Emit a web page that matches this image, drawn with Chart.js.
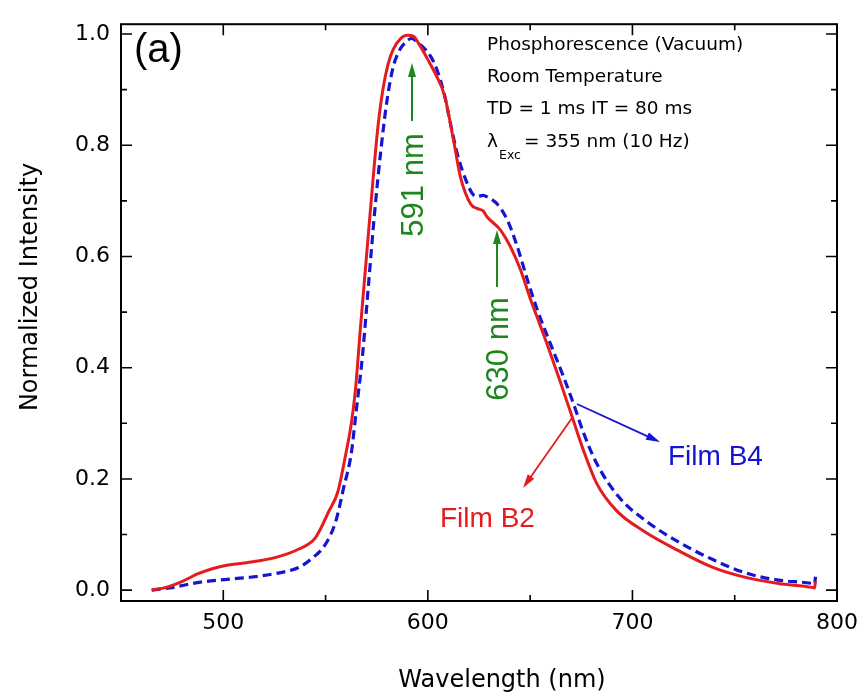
<!DOCTYPE html>
<html>
<head>
<meta charset="utf-8">
<script src="https://cdn.jsdelivr.net/npm/chart.js@4.4.1/dist/chart.umd.min.js"></script>
<style>
html,body{margin:0;padding:0;background:#fff;}
#wrap{width:867px;height:696px;}
</style>
</head>
<body>
<div id="wrap"><canvas id="c" width="867" height="696"></canvas></div>
<script>
// ---- data ----
const wlB2 = [465,472,480,488,495,500.5,512.6,525.7,537,545,551.5,556,560,562.6,564.6,567,570,573,575.5,578,580.5,583,587,590,593,596,600,604,608.2,613,616,621,624.3,627,629,635.4,640.3,645.1,650,654.8,658.3,664.6,670.4,676.2,682.5,692.2,706,722,739.3,755.3,771.4,787.9,789,789.5];
const intB2 = [0.000,0.005,0.016,0.030,0.039,0.044,0.050,0.059,0.074,0.094,0.141,0.177,0.247,0.300,0.360,0.47,0.60,0.73,0.83,0.90,0.945,0.972,0.993,0.998,0.996,0.98,0.954,0.926,0.889,0.80,0.742,0.694,0.686,0.682,0.671,0.648,0.618,0.578,0.525,0.477,0.442,0.376,0.313,0.250,0.192,0.143,0.105,0.072,0.041,0.023,0.012,0.005,0.004,0.016];
const wlB4 = [465,473.8,488,500.5,512.6,525.7,537,543,550,555,558.7,562.6,565,568,571,574,577,580,583,586,589,592,595,601.5,605,608.2,611,614.5,619.4,622,624.3,627,629.1,634,638.8,643.7,648.5,653.4,659.7,666.5,671.4,676.2,682.5,693.7,706.8,722.8,739.3,755.3,771.4,787.9,789,789.5];
const intB4 = [0.000,0.004,0.014,0.019,0.023,0.030,0.041,0.056,0.083,0.124,0.182,0.247,0.323,0.42,0.55,0.68,0.79,0.88,0.94,0.97,0.985,0.992,0.985,0.959,0.93,0.889,0.84,0.783,0.730,0.712,0.708,0.71,0.707,0.694,0.666,0.618,0.56,0.505,0.445,0.382,0.333,0.282,0.228,0.166,0.124,0.086,0.055,0.031,0.018,0.012,0.011,0.024];
const xTicks = [500,600,700,800];
const xMinor = [550,650,750];
const yTicks = [0,0.2,0.4,0.6,0.8,1.0];
const yMinor = [0.1,0.3,0.5,0.7,0.9];
const xTitle = 'Wavelength (nm)';
const yTitle = 'Normalized Intensity';
const infoLines = ['Phosphorescence (Vacuum)','Room Temperature','TD = 1 ms IT = 80 ms'];

const RED = '#e41b1f', BLUE = '#1414d2', GREEN = '#1f861f';
const toPts = (xs, ys) => xs.map((x, i) => ({x: x, y: ys[i]}));

function arrow(ctx, x1, y1, x2, y2, color, lw, hl, hw) {
  const a = Math.atan2(y2 - y1, x2 - x1);
  ctx.save();
  ctx.strokeStyle = color; ctx.fillStyle = color; ctx.lineWidth = lw;
  ctx.beginPath();
  ctx.moveTo(x1, y1);
  ctx.lineTo(x2 - Math.cos(a) * hl * 0.8, y2 - Math.sin(a) * hl * 0.8);
  ctx.stroke();
  ctx.beginPath();
  ctx.moveTo(x2, y2);
  ctx.lineTo(x2 - Math.cos(a) * hl + Math.sin(a) * hw / 2, y2 - Math.sin(a) * hl - Math.cos(a) * hw / 2);
  ctx.lineTo(x2 - Math.cos(a) * hl - Math.sin(a) * hw / 2, y2 - Math.sin(a) * hl + Math.cos(a) * hw / 2);
  ctx.closePath();
  ctx.fill();
  ctx.restore();
}

const framePlugin = {
  id: 'frame',
  afterDraw(chart) {
    const ctx = chart.ctx, a = chart.chartArea;
    const xs = chart.scales.x, ys = chart.scales.y;
    ctx.save();
    ctx.strokeStyle = '#000'; ctx.lineWidth = 2;
    ctx.strokeRect(a.left, a.top, a.right - a.left, a.bottom - a.top);
    ctx.lineWidth = 1.6;
    ctx.beginPath();
    const tickX = (v, len) => {
      const p = xs.getPixelForValue(v);
      ctx.moveTo(p, a.bottom); ctx.lineTo(p, a.bottom - len);
      ctx.moveTo(p, a.top); ctx.lineTo(p, a.top + len);
    };
    const tickY = (v, len) => {
      const p = ys.getPixelForValue(v);
      ctx.moveTo(a.left, p); ctx.lineTo(a.left + len, p);
      ctx.moveTo(a.right, p); ctx.lineTo(a.right - len, p);
    };
    xTicks.forEach(v => tickX(v, 11));
    xMinor.forEach(v => tickX(v, 6));
    yTicks.forEach(v => tickY(v, 11));
    yMinor.forEach(v => tickY(v, 6));
    ctx.stroke();

    // axis titles
    ctx.fillStyle = '#000';
    ctx.font = '24px "DejaVu Sans"';
    ctx.textAlign = 'center'; ctx.textBaseline = 'alphabetic';
    ctx.fillText(xTitle, 502, 687);
    ctx.save();
    ctx.translate(37, 287);
    ctx.rotate(-Math.PI / 2);
    ctx.fillText(yTitle, 0, 0);
    ctx.restore();

    // panel label
    ctx.textAlign = 'left';
    ctx.font = '40px "Liberation Sans"';
    ctx.fillText('(a)', 134, 62);

    // info block
    ctx.font = '18.5px "DejaVu Sans"';
    const baseYs = [50, 82, 114];
    infoLines.forEach((t, i) => ctx.fillText(t, 487, baseYs[i]));
    ctx.fillText('\u03bb', 487, 147);
    ctx.font = '12.5px "DejaVu Sans"';
    ctx.fillText('Exc', 499, 159);
    ctx.font = '18.5px "DejaVu Sans"';
    ctx.fillText('= 355 nm (10 Hz)', 524, 147);

    // green peak labels
    ctx.fillStyle = GREEN;
    ctx.font = '31px "Liberation Sans"';
    ctx.textAlign = 'center';
    ctx.save(); ctx.translate(423, 185); ctx.rotate(-Math.PI / 2); ctx.fillText('591 nm', 0, 0); ctx.restore();
    ctx.save(); ctx.translate(508, 349); ctx.rotate(-Math.PI / 2); ctx.fillText('630 nm', 0, 0); ctx.restore();
    arrow(ctx, 412, 121, 412, 63, GREEN, 2, 14, 8);
    arrow(ctx, 497, 287, 497, 230, GREEN, 2, 14, 8);

    // film labels
    arrow(ctx, 577, 404, 660, 442, BLUE, 1.8, 14, 8);
    arrow(ctx, 572, 418, 523, 488, RED, 1.8, 14, 8);
    ctx.font = '28px "Liberation Sans"';
    ctx.textAlign = 'left';
    ctx.fillStyle = BLUE; ctx.fillText('Film B4', 668, 465);
    ctx.fillStyle = RED; ctx.fillText('Film B2', 440, 527);
    ctx.restore();
  }
};

new Chart(document.getElementById('c'), {
  type: 'line',
  data: {
    datasets: [
      {label: 'Film B2', data: toPts(wlB2, intB2), borderColor: RED, borderWidth: 3,
       pointRadius: 0, fill: false, cubicInterpolationMode: 'monotone'},
      {label: 'Film B4', data: toPts(wlB4, intB4), borderColor: BLUE, borderWidth: 3.2,
       borderDash: [9, 5], pointRadius: 0, fill: false, cubicInterpolationMode: 'monotone'}
    ]
  },
  options: {
    responsive: false, animation: false, devicePixelRatio: 1,
    layout: {padding: {top: 14, right: 25, left: 0, bottom: 0}},
    plugins: {legend: {display: false}, tooltip: {enabled: false}},
    scales: {
      x: {
        type: 'linear', min: 450, max: 800,
        afterBuildTicks: s => { s.ticks = xTicks.map(v => ({value: v})); },
        afterFit: s => { s.height = 95; },
        grid: {display: false, drawTicks: false, tickLength: 0},
        border: {display: false},
        ticks: {color: '#000', padding: 9, maxRotation: 0, font: {family: 'DejaVu Sans', size: 22},
                callback: v => String(v)}
      },
      y: {
        type: 'linear', min: -0.0195, max: 1.0177,
        afterBuildTicks: s => { s.ticks = yTicks.map(v => ({value: v})); },
        afterFit: s => { s.width = 121; },
        grid: {display: false, drawTicks: false, tickLength: 0},
        border: {display: false},
        ticks: {color: '#000', padding: 11, font: {family: 'DejaVu Sans', size: 22},
                callback: v => Number(v).toFixed(1)}
      }
    }
  },
  plugins: [framePlugin]
});
</script>
</body>
</html>
